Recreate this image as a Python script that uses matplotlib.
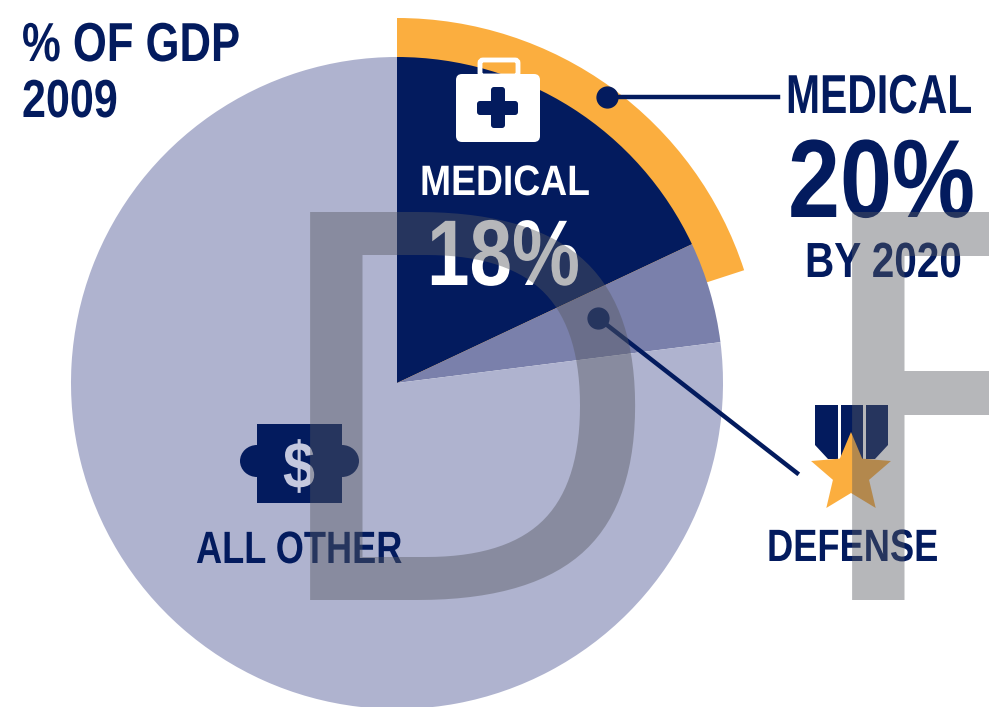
import matplotlib
matplotlib.use("Agg")
import matplotlib.pyplot as plt
from matplotlib.patches import Rectangle, FancyBboxPatch, Ellipse, Polygon
from matplotlib.patheffects import AbstractPathEffect
from matplotlib.text import Text
from matplotlib.transforms import Affine2D, Bbox
import numpy as np

# % of GDP
shares = [18, 5, 77]
share_colors = ["#031B5E", "#7A80AB", "#AFB3CF"]
medical_2020 = [20, 80]

NAVY = "#031B5E"
ORANGE = "#FBAE3F"
H = 707
FONT = ["Liberation Sans", "DejaVu Sans"]


def yy(y):
    return H - y


# no condensed face installed, so squeeze the glyphs sideways when drawing
class Squeeze(AbstractPathEffect):
    def __init__(self, sx):
        super().__init__()
        self.sx = sx

    def draw_path(self, renderer, gc, tpath, affine, rgbFace=None):
        renderer.draw_path(gc, tpath, Affine2D().scale(self.sx, 1) + affine, rgbFace)


class NarrowText(Text):
    sx = 1.0

    def get_window_extent(self, renderer=None, dpi=None):
        bb = super().get_window_extent(renderer, dpi)
        return Bbox.from_extents(bb.x0, bb.y0, bb.x0 + bb.width * self.sx, bb.y1)


fig = plt.figure(figsize=(9.89, 7.07), dpi=100)
ax = fig.add_axes([0, 0, 1, 1])

# ring for the 2020 share, then the 2009 pie on top
ax.pie(medical_2020, colors=[ORANGE, "none"], startangle=90, counterclock=False,
       center=(397, yy(383)), radius=365)
ax.pie(shares, colors=share_colors, startangle=90, counterclock=False,
       center=(397, yy(383)), radius=326)

ax.set_xlim(0, 989)
ax.set_ylim(0, H)
ax.set_aspect("equal")
ax.axis("off")
rend = fig.canvas.get_renderer()


def label(x0, x1, top, bottom, s, color=NAVY):
    # cap height in pixels -> font size in points at dpi 100
    size = (bottom - top) * 0.72 / 0.729
    t = NarrowText(x0, yy(bottom), s, fontsize=size, color=color, ha="left", va="baseline",
                   family=FONT, fontweight="bold", zorder=5)
    ax.add_artist(t)
    t.sx = (x1 - x0) / t.get_window_extent(rend).width
    t.set_path_effects([Squeeze(t.sx)])


label(22, 240, 21, 61, "% OF GDP")
label(22, 118, 78, 117, "2009")
label(786, 972, 73, 113, "MEDICAL")
label(788, 975, 136, 217, "20%")
label(805, 962, 241, 277, "BY 2020")
label(420, 590, 164, 195, "MEDICAL", color="white")
label(427, 580, 217, 285, "18%", color="white")
label(196, 402, 530, 563, "ALL OTHER")
label(767, 938, 528, 561, "DEFENSE")

# leader lines
ax.plot([607, 778], [yy(97), yy(97)], color=NAVY, lw=3.2, zorder=4)
ax.plot([607], [yy(97)], "o", color=NAVY, ms=15, zorder=4)
ax.plot([598, 797], [yy(318), yy(473)], color=NAVY, lw=3.2, zorder=4)
ax.plot([598], [yy(318)], "o", color=NAVY, ms=15, zorder=4)

# medical kit
ax.add_patch(FancyBboxPatch((480, yy(76)), 38, 16, boxstyle="round,pad=0,rounding_size=3",
                            fc="none", ec="white", lw=3.5, zorder=4))
ax.add_patch(FancyBboxPatch((456, yy(142)), 84, 68, boxstyle="round,pad=0,rounding_size=6",
                            fc="white", ec="none", zorder=4))
ax.add_patch(FancyBboxPatch((477, yy(115)), 41, 14, boxstyle="round,pad=0,rounding_size=3",
                            fc=NAVY, ec="none", zorder=4.5))
ax.add_patch(FancyBboxPatch((491, yy(128)), 14, 41, boxstyle="round,pad=0,rounding_size=3",
                            fc=NAVY, ec="none", zorder=4.5))

# dollar bill
ax.add_patch(Rectangle((257, yy(503)), 85, 79, fc=NAVY, zorder=4))
ax.add_patch(Ellipse((257, yy(461)), 34, 32, fc=NAVY, zorder=4))
ax.add_patch(Ellipse((342, yy(461)), 34, 32, fc=NAVY, zorder=4))
label(283, 315, 440, 488, "$", color="#C4C8DE")

# medal
ribbons = [
    [(815, 405), (838, 405), (838, 459), (828, 459), (815, 445)],
    [(841, 405), (863, 405), (863, 459), (841, 459)],
    [(866, 405), (888, 405), (888, 445), (875, 459), (866, 459)],
]
for pts in ribbons:
    ax.add_patch(Polygon([(x, yy(y)) for x, y in pts], closed=True, fc=NAVY, zorder=4))
ang = np.deg2rad(90 + np.arange(10) * 36)
rad = np.where(np.arange(10) % 2 == 0, 42, 19)
ax.add_patch(Polygon(np.column_stack([851 + rad * np.cos(ang), yy(474) + rad * np.sin(ang)]),
                     closed=True, fc=ORANGE, zorder=4.5))

# big watermark letters over everything
for x, s in [(258, "D"), (800, "F")]:
    ax.text(x, yy(600), s, fontsize=382, color="#565860", alpha=0.43, ha="left",
            va="baseline", family="DejaVu Sans", zorder=10, clip_on=True)

fig.savefig("out.png", dpi=100)
